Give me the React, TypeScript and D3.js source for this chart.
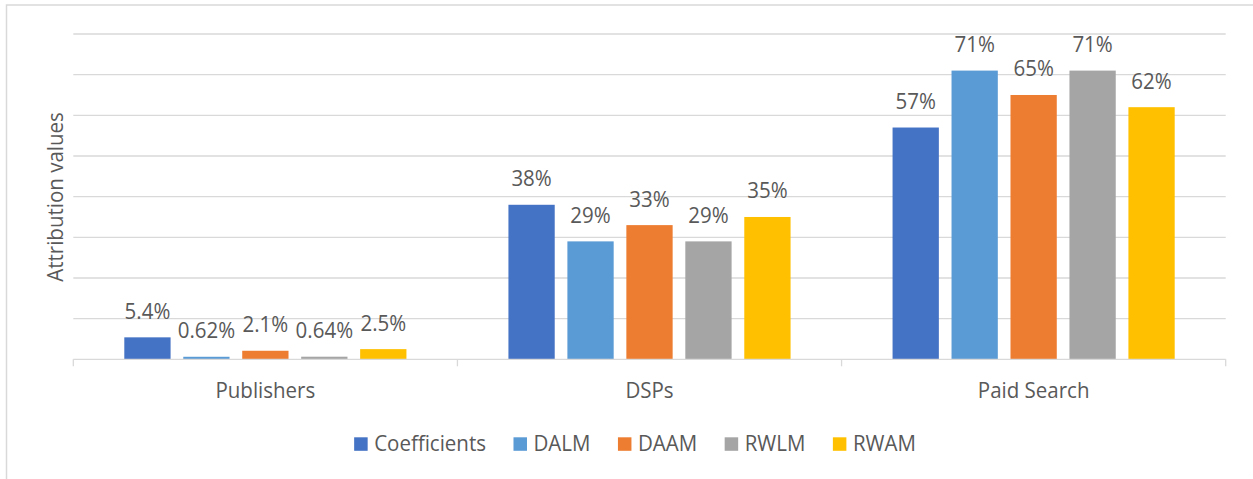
import React, { useRef, useEffect } from "react";
import * as d3 from "d3";

const categories = ["Publishers", "DSPs", "Paid Search"];
const seriesNames = ["Coefficients", "DALM", "DAAM", "RWLM", "RWAM"];
const seriesColors = ["#4472C4", "#5B9BD5", "#ED7D31", "#A5A5A5", "#FFC000"];
// one array per series, values per category
const coefficients = [0.054, 0.38, 0.57];
const dalm = [0.0062, 0.29, 0.71];
const daam = [0.021, 0.33, 0.65];
const rwlm = [0.0064, 0.29, 0.71];
const rwam = [0.025, 0.35, 0.62];
const yTicks = [0, 0.1, 0.2, 0.3, 0.4, 0.5, 0.6, 0.7, 0.8];

const W = 1253;
const H = 479;
const FONT = "'Open Sans', sans-serif";
const FS = 20.5;
const STRETCH = 1.08;
const TEXT = "#595959";
const GRID = "#d9d9d9";

export default function App() {
  const svgRef = useRef<SVGSVGElement>(null);

  useEffect(() => {
    const svg = d3.select(svgRef.current);
    svg.selectAll("*").remove();

    const values = [coefficients, dalm, daam, rwlm, rwam];
    const left = 73.3, right = 1225.7, top = 34, bottom = 359.3;

    const y = d3.scaleLinear().domain([0, 0.8]).range([bottom, top]);
    const x0 = d3.scaleBand().domain(categories).range([left, right]);
    const outer = 51;
    const x1 = d3
      .scaleBand()
      .domain(seriesNames)
      .range([outer, x0.bandwidth() - outer])
      .paddingInner(0.215);

    // text is slightly taller than the font's natural shape in the original
    const place = (px: number, py: number, rot = 0) =>
      `translate(${px},${py})${rot ? ` rotate(${rot})` : ""} scale(1,${STRETCH})`;

    // outer border
    svg
      .append("rect")
      .attr("x", 6.5)
      .attr("y", 5)
      .attr("width", W + 10)
      .attr("height", H + 10)
      .attr("fill", "none")
      .attr("stroke", GRID)
      .attr("stroke-width", 1.5);

    // gridlines
    svg
      .append("g")
      .selectAll("line")
      .data(yTicks.slice(1))
      .join("line")
      .attr("x1", left)
      .attr("x2", right)
      .attr("y1", (d) => y(d))
      .attr("y2", (d) => y(d))
      .attr("stroke", GRID)
      .attr("stroke-width", 1.3);

    // bars
    const groups = svg
      .append("g")
      .selectAll("g")
      .data(categories)
      .join("g")
      .attr("transform", (c) => `translate(${x0(c)},0)`);

    groups
      .selectAll("rect")
      .data((c, ci) => seriesNames.map((s, si) => ({ s, si, v: values[si][ci] })))
      .join("rect")
      .attr("x", (d) => x1(d.s)!)
      .attr("width", x1.bandwidth())
      .attr("y", (d) => y(d.v))
      .attr("height", (d) => bottom - y(d.v))
      .attr("fill", (d) => seriesColors[d.si]);

    const fmt = d3.format(".2p");
    groups
      .selectAll("text")
      .data((c, ci) => seriesNames.map((s, si) => ({ s, si, v: values[si][ci] })))
      .join("text")
      .attr("transform", (d) => place(x1(d.s)! + x1.bandwidth() / 2, y(d.v) - 18.5))
      .attr("text-anchor", "middle")
      .attr("font-family", FONT)
      .attr("font-size", FS)
      .attr("fill", TEXT)
      .text((d) => fmt(d.v));

    // x axis
    const ax = svg.append("g");
    ax.append("line")
      .attr("x1", left)
      .attr("x2", right)
      .attr("y1", bottom)
      .attr("y2", bottom)
      .attr("stroke", GRID)
      .attr("stroke-width", 1.3);
    const bounds = categories.map((c) => x0(c)!).concat([right]);
    ax.selectAll("line.tick")
      .data(bounds)
      .join("line")
      .attr("class", "tick")
      .attr("x1", (d) => d)
      .attr("x2", (d) => d)
      .attr("y1", bottom)
      .attr("y2", bottom + 7)
      .attr("stroke", GRID)
      .attr("stroke-width", 1.3);
    ax.selectAll("text")
      .data(categories)
      .join("text")
      .attr("transform", (c) => place(x0(c)! + x0.bandwidth() / 2, 398.3))
      .attr("text-anchor", "middle")
      .attr("font-family", FONT)
      .attr("font-size", FS)
      .attr("fill", TEXT)
      .text((c) => c);

    // y title
    svg
      .append("text")
      .attr("transform", `translate(63,197) rotate(-90) scale(1.0,${STRETCH})`)
      .attr("text-anchor", "middle")
      .attr("font-family", FONT)
      .attr("font-size", FS)
      .attr("fill", TEXT)
      .text("Attribution values");

    // legend
    const leg = svg.append("g");
    const items = leg
      .selectAll("g")
      .data(seriesNames)
      .join("g");
    items
      .append("rect")
      .attr("width", 13.5)
      .attr("height", 13.5)
      .attr("y", 437.3)
      .attr("fill", (d, i) => seriesColors[i]);
    items
      .append("text")
      .attr("transform", place(20, 450.7))
      .attr("font-family", FONT)
      .attr("font-size", FS)
      .attr("fill", TEXT)
      .text((d) => d);
    const widths: number[] = [];
    items.each(function () {
      const t = d3.select(this).select("text").node() as SVGTextElement;
      widths.push(20 + t.getComputedTextLength());
    });
    const gap = 27.5;
    const total = d3.sum(widths) + gap * (widths.length - 1);
    let cx = 635 - total / 2;
    items.attr("transform", (d, i) => {
      const t = `translate(${cx},0)`;
      cx += widths[i] + gap;
      return t;
    });
  }, []);

  return (
    <svg
      ref={svgRef}
      width={W}
      height={H}
      style={{ position: "absolute", left: 0, top: 0, background: "#fff" }}
    />
  );
}
